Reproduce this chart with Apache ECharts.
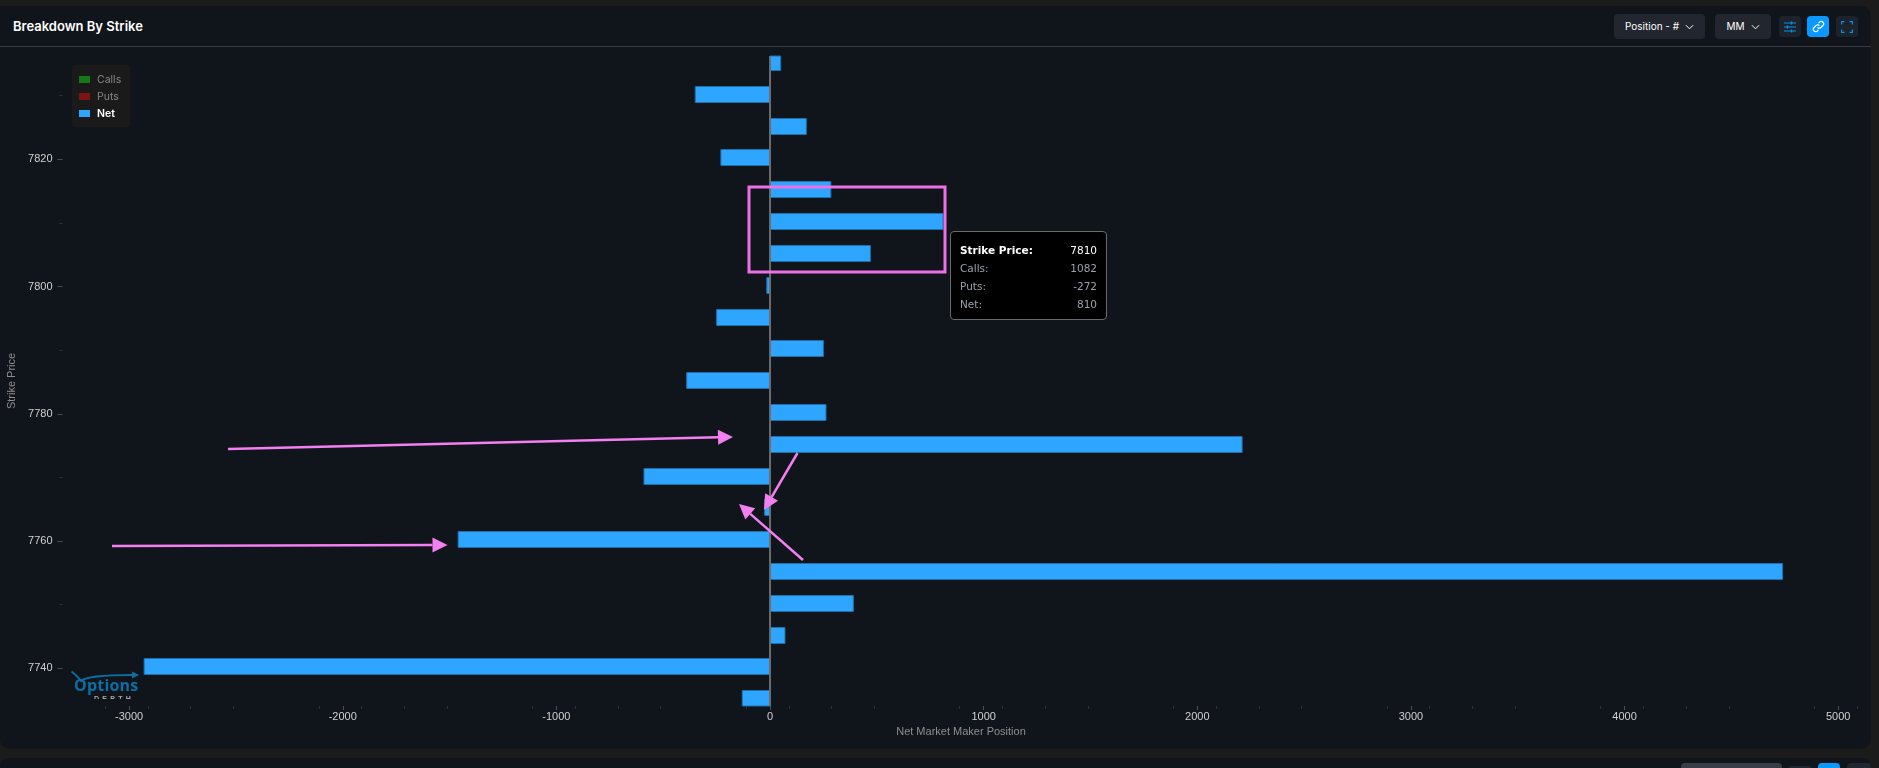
<!DOCTYPE html>
<html>
<head>
<meta charset="utf-8">
<script src="https://cdn.jsdelivr.net/npm/echarts@6/dist/echarts.min.js"></script>
<style>
html,body{margin:0;padding:0;width:1879px;height:768px;overflow:hidden;background:#1b1b1b;font-family:Inter,Arial,sans-serif}
.card{position:absolute;left:0;width:1871px;background:#10151c}
#main{top:6px;height:743px;border-radius:0 10px 10px 10px}
#foot{top:758px;height:10px;border-radius:8px 8px 0 0}
#divider{position:absolute;left:0;top:46px;width:1871px;height:1px;background:#3b3e40}
#title{position:absolute;left:13px;top:16px;font-size:13px;font-weight:600;line-height:20px;color:#fff}
.btn{position:absolute;top:14px;height:25px;line-height:25px;background:#22262e;border-radius:4px;color:#fff;font-size:10px;text-align:center}
.btn svg{vertical-align:0px;margin-left:6px}
.ico{position:absolute;top:16px;width:22px;height:21px;border-radius:4px;background:#1c232c;display:flex;align-items:center;justify-content:center}
.f{position:absolute;top:763px;height:5px;border-radius:4px 4px 0 0}
#chart{position:absolute;left:0;top:0;width:1879px;height:768px}
#logo{position:absolute;left:68px;top:668px;width:74px;height:31px;overflow:hidden;z-index:5}
#logo .o{position:absolute;left:6px;top:7px;font:700 16px/20px "Open Sans",Arial,sans-serif;color:#0c6ea3;letter-spacing:.2px}
#logo .d{position:absolute;left:26px;top:27px;font:700 7px/8px Arial,sans-serif;color:#aaa;letter-spacing:3.3px}
#logo svg{position:absolute;left:0;top:0}
</style>
</head>
<body>
<div class="card" id="main"></div>
<div class="card" id="foot"></div>
<div class="f" style="left:1681px;width:101px;background:#3a3d45"></div>
<div class="f" style="left:1789px;width:22px;top:766px;height:2px;background:#22262e"></div>
<div class="f" style="left:1818px;width:22px;background:#0a99ff"></div>
<div class="f" style="left:1847px;width:24px;background:#22262e"></div>
<div id="divider"></div>
<div id="title">Breakdown By Strike</div>
<div class="btn" style="left:1614px;width:91px">Position - #<svg width="9" height="6" viewBox="0 0 10 6"><path d="M1 1l4 4 4-4" fill="none" stroke="#fff" stroke-width="1.1"/></svg></div>
<div class="btn" style="left:1715px;width:56px">MM<svg width="9" height="6" viewBox="0 0 10 6"><path d="M1 1l4 4 4-4" fill="none" stroke="#fff" stroke-width="1.1"/></svg></div>
<div class="ico" style="left:1779px"><svg width="12" height="12" viewBox="0 0 12 12"><path d="M0 2h12M0 6h12M0 10h12" stroke="#0a8fe8" stroke-width="1.2"/><path d="M7.5 .5v3M3.5 4.5v3M7.5 8.5v3" stroke="#0a8fe8" stroke-width="1.4"/></svg></div>
<div class="ico" style="left:1807px;background:#0a99ff"><svg width="13" height="13" viewBox="0 0 13 13"><path d="M5.5 7.5a2.4 2.4 0 0 0 3.4 0l2-2a2.4 2.4 0 0 0-3.4-3.4l-1 1M7.5 5.5a2.4 2.4 0 0 0-3.4 0l-2 2a2.4 2.4 0 0 0 3.4 3.4l1-1" fill="none" stroke="#fff" stroke-width="1.2"/></svg></div>
<div class="ico" style="left:1836px"><svg width="12" height="12" viewBox="0 0 12 12"><path d="M.6 3.5V.6h2.9M8.5.6h2.9v2.9M11.4 8.5v2.9H8.5M3.5 11.4H.6V8.5" fill="none" stroke="#0a8fe8" stroke-width="1.2"/></svg></div>
<div id="chart"></div>
<div id="logo">
  <svg width="74" height="31" viewBox="0 0 74 31"><path d="M3.500 3.500C8 7 11 10 13 13C17 9 35 7 64 7" fill="none" stroke="#0c6ea3" stroke-width="1.8"/><path d="M71 7l-7-3.500v7z" fill="#0c6ea3"/></svg>
  <div class="o">Options</div>
  <div class="d">DEPTH</div>
</div>
<script>
var strikes = [7835,7830,7825,7820,7815,7810,7805,7800,7795,7790,7785,7780,7775,7770,7765,7760,7755,7750,7745,7740,7735];
var netValues = [50,-350,170,-230,285,810,470,-15,-250,250,-390,262,2210,-590,-25,-1460,4740,390,70,-2930,-130];
var strikeLabelTicks = [7740,7760,7780,7800,7820];
var strikeDimTicks = [7750,7770,7790,7810,7830];
var positionTicks = [-3000,-2000,-1000,0,1000,2000,3000,4000,5000];
var callsAtTip = 1082, putsAtTip = -272, netAtTip = 810, strikeAtTip = 7810;

var yMin = 7733.87, yMax = 7836.03, tickShift = 0.2, barThickness = 17;
var pink = '#f47ff0';
var chart = echarts.init(document.getElementById('chart'), null, {renderer:'canvas'});

function arrow(x1,y1,x2,y2){
  var a = Math.atan2(y2-y1,x2-x1), L = 15, W = 7.500;
  var bx = x2-L*Math.cos(a), by = y2-L*Math.sin(a);
  var nx = -Math.sin(a), ny = Math.cos(a);
  return [
    {type:'line',shape:{x1:x1,y1:y1,x2:bx,y2:by},style:{stroke:pink,lineWidth:2.5},z:50},
    {type:'polygon',shape:{points:[[x2,y2],[bx+nx*W,by+ny*W],[bx-nx*W,by-ny*W]]},style:{fill:pink},z:50}
  ];
}
var annotations = [
  {type:'rect',shape:{x:749,y:187,width:196,height:85},style:{fill:'none',stroke:'#ee70e6',lineWidth:3},z:50}
].concat(arrow(228,449,733,437),arrow(112,546,447.500,545),arrow(797.500,453,764,510),arrow(803,560,739,504));

function renderHorizontalBar(params, api){
  var v = api.value(0), s = api.value(1);
  var a = api.coord([0,s]), b = api.coord([v,s]);
  var rect = echarts.graphic.clipRectByRect({
    x:Math.min(a[0],b[0]), y:Math.round(a[1]-barThickness/2)+0.5, width:Math.abs(b[0]-a[0]), height:barThickness-1
  },{x:params.coordSys.x,y:params.coordSys.y,width:params.coordSys.width,height:params.coordSys.height});
  if(!rect) return null;
  return {type:'rect',shape:rect,style:{fill:'#2ea6ff',stroke:'#1f6fa8',lineWidth:1}};
}

var axisText = {color:'#d0d0d0',fontSize:11,fontFamily:'Arial, Liberation Sans, sans-serif'};
var nameText = {color:'#8f8f8f',fontSize:11,fontFamily:'Arial, Liberation Sans, sans-serif'};
var legendFont = 'Inter, Arial, sans-serif';

chart.setOption({
  animation:false,
  backgroundColor:'transparent',
  grid:{left:62.5,right:19.5,top:56,bottom:62,containLabel:false,outerBoundsMode:'none'},
  legend:{
    orient:'vertical',left:72,top:65,padding:[9,9,8,7],itemWidth:11,itemHeight:7,itemGap:6,
    backgroundColor:'#1a1a1a',borderRadius:4,icon:'rect',selectedMode:false,
    data:[
      {name:'Calls',itemStyle:{color:'#157a15'},textStyle:{color:'#858585',fontSize:10.5,fontFamily:legendFont,padding:[0,0,0,2]}},
      {name:'Puts',itemStyle:{color:'#7f1212'},textStyle:{color:'#858585',fontSize:10.5,fontFamily:legendFont,padding:[0,0,0,2]}},
      {name:'Net',itemStyle:{color:'#2ea6ff'},textStyle:{color:'#fff',fontSize:10.5,fontWeight:600,fontFamily:legendFont,padding:[0,0,0,2]}}
    ]
  },
  tooltip:{
    trigger:'item',alwaysShowContent:true,transitionDuration:0,
    position:function(){return [950,231];},
    backgroundColor:'#000',borderColor:'#666b70',borderWidth:1,padding:[9,9],
    extraCssText:'width:157px;height:89px;box-sizing:border-box;border-radius:4px;box-shadow:none;',
    formatter:function(){
      function row(a,b,bold){
        var c = bold?'#fff':'#9aa0a8';
        return '<div style="display:flex;justify-content:space-between;height:18px;line-height:18px;font-size:10.5px;font-family:DejaVu Sans,Verdana;color:'+c+';'+(bold?'font-weight:700;':'')+'"><span>'+a+'</span><span style="font-weight:'+(bold?500:400)+'">'+b+'</span></div>';
      }
      return row('Strike Price:',strikeAtTip,true)+row('Calls:',callsAtTip)+row('Puts:',putsAtTip)+row('Net:',netAtTip);
    }
  },
  xAxis:{
    type:'value',min:-3312,max:5100,interval:1000,
    name:'Net Market Maker Position',nameLocation:'middle',nameGap:18,nameTextStyle:nameText,
    axisLine:{show:false,onZero:false},
    axisTick:{show:true,length:4,customValues:positionTicks,lineStyle:{color:'#4a4e54'}},
    minorTick:{show:true,splitNumber:5,length:3,lineStyle:{color:'#2c3036'}},
    axisLabel:Object.assign({margin:5,customValues:positionTicks,formatter:function(v){return String(v);}},axisText),
    splitLine:{show:false}
  },
  yAxis:[
    {
      type:'value',min:yMin+tickShift,max:yMax+tickShift,
      name:'Strike Price',nameLocation:'middle',nameGap:37,nameTextStyle:nameText,
      axisLine:{show:false,onZero:false},
      axisTick:{show:true,length:5,customValues:strikeLabelTicks,lineStyle:{color:'#4a4e54'}},
      axisLabel:Object.assign({margin:10,customValues:strikeLabelTicks,formatter:function(v){return String(v);}},axisText),
      splitLine:{show:false}
    },
    {
      type:'value',min:yMin+tickShift,max:yMax+tickShift,position:'left',
      axisLine:{show:false,onZero:false},
      axisTick:{show:true,length:3,customValues:strikeDimTicks,lineStyle:{color:'#2c3036'}},
      axisLabel:{show:false},
      splitLine:{show:false}
    },
    {
      type:'value',min:yMin,max:yMax,position:'left',
      axisLine:{show:false,onZero:false},axisTick:{show:false},axisLabel:{show:false},splitLine:{show:false}
    }
  ],
  series:[
    {name:'Calls',type:'custom',yAxisIndex:2,renderItem:renderHorizontalBar,data:[]},
    {name:'Puts',type:'custom',yAxisIndex:2,renderItem:renderHorizontalBar,data:[]},
    {
      name:'Net',type:'custom',yAxisIndex:2,renderItem:renderHorizontalBar,
      itemStyle:{color:'#2ea6ff'},
      encode:{x:0,y:1},
      data:netValues.map(function(v,i){return [v,strikes[i]];})
    },
    {
      name:'Zero',type:'line',yAxisIndex:2,silent:true,symbol:'none',z:5,tooltip:{show:false},
      lineStyle:{color:'#6a6d70',width:2},
      data:[[0,yMin],[0,yMax]]
    }
  ],
  graphic:annotations
});
chart.dispatchAction({type:'showTip',seriesIndex:2,dataIndex:strikes.indexOf(strikeAtTip)});
</script>
</body>
</html>
